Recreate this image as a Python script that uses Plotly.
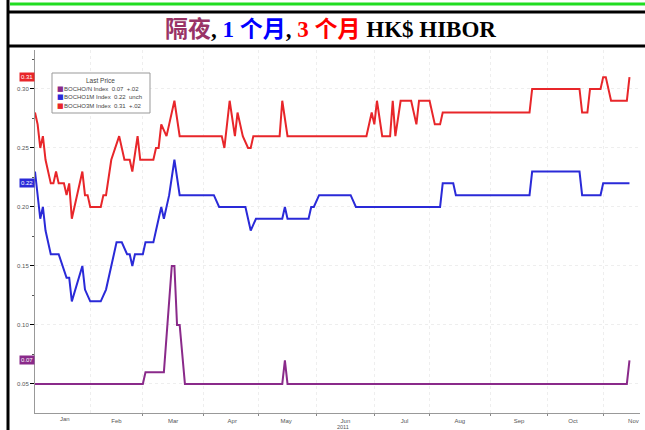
import plotly.graph_objects as go
import pandas as pd

# ---------------- data (trading-day number since 3 Jan 2011, rate) ----------------
days_on = [0, 41, 42, 49, 52, 53, 54, 55, 57, 94, 95, 96, 225, 226]
hibor_on = [0.05, 0.05, 0.06, 0.06, 0.15, 0.15, 0.10, 0.10, 0.05, 0.05, 0.07, 0.05, 0.05, 0.07]

days_1m = [0, 2, 3, 4, 6, 9, 12, 13, 14, 18, 19, 21, 25, 27, 30, 31, 33, 35, 36, 37, 38, 41,
           42, 45, 46, 48, 49, 51, 53, 55, 68, 70, 80, 82, 84, 94, 95, 96, 104, 105, 106, 108,
           120, 122, 154, 155, 159, 160, 188, 189, 207, 208, 215, 216, 226]
hibor_1m = [0.23, 0.19, 0.20, 0.18, 0.16, 0.16, 0.14, 0.14, 0.12, 0.15, 0.13, 0.12, 0.12, 0.13,
            0.16, 0.17, 0.17, 0.16, 0.16, 0.15, 0.16, 0.16, 0.17, 0.17, 0.18, 0.20, 0.19, 0.21,
            0.24, 0.21, 0.21, 0.20, 0.20, 0.18, 0.19, 0.19, 0.20, 0.19, 0.19, 0.20, 0.20, 0.21,
            0.21, 0.20, 0.20, 0.22, 0.22, 0.21, 0.21, 0.23, 0.23, 0.21, 0.21, 0.22, 0.22]

days_3m = [0, 1, 2, 3, 4, 6, 7, 8, 9, 11, 12, 13, 14, 16, 18, 19, 20, 21, 25, 26, 27, 29, 32,
           34, 36, 37, 39, 40, 45, 46, 47, 48, 50, 51, 53, 55, 71, 72, 74, 76, 77, 79, 81, 82,
           83, 93, 94, 96, 126, 128, 129, 130, 132, 135, 136, 137, 139, 143, 145, 146, 150,
           152, 154, 155, 188, 189, 207, 208, 210, 211, 215, 216, 217, 219, 225, 226]
hibor_3m = [0.28, 0.27, 0.25, 0.26, 0.24, 0.22, 0.22, 0.23, 0.22, 0.22, 0.21, 0.22, 0.19, 0.21,
            0.23, 0.21, 0.21, 0.20, 0.20, 0.21, 0.21, 0.24, 0.26, 0.24, 0.24, 0.23, 0.26, 0.24,
            0.24, 0.25, 0.25, 0.27, 0.26, 0.27, 0.29, 0.26, 0.26, 0.25, 0.29, 0.26, 0.28, 0.26,
            0.25, 0.25, 0.26, 0.26, 0.29, 0.26, 0.26, 0.28, 0.27, 0.29, 0.26, 0.26, 0.29, 0.26,
            0.29, 0.29, 0.27, 0.29, 0.29, 0.27, 0.27, 0.28, 0.28, 0.30, 0.30, 0.28, 0.28, 0.30,
            0.30, 0.31, 0.31, 0.29, 0.29, 0.31]

series_names = ["BOCHO/N Index", "BOCHO1M Index", "BOCHO3M Index"]
series_change = ["+.02", "unch", "+.02"]
series_colors = ["#8a2a8a", "#2a2ad8", "#e8262a"]
y_ticks = [0.05, 0.10, 0.15, 0.20, 0.25, 0.30]
y_ticklabels = ["0.05", "0.10", "0.15", "0.20", "0.25", "0.30"]

# ---------------- layout helpers ----------------
W, H = 645, 430
L, R, T, B = 35, 5, 50, 17


def px(x):
    return (x - L) / (W - L - R)


def py(y):
    return (H - B - y) / (H - T - B)


dates = pd.bdate_range("2011-01-03", periods=240)

fig = go.Figure()
all_days = [days_on, days_1m, days_3m]
all_vals = [hibor_on, hibor_1m, hibor_3m]
for d, v, c in zip(all_days, all_vals, series_colors):
    fig.add_trace(go.Scatter(x=dates[d], y=v, mode="lines",
                             line=dict(color=c, width=2), showlegend=False,
                             hoverinfo="skip"))

shapes = [
    dict(type="line", xref="paper", yref="paper", x0=px(10), x1=px(646), y0=py(4), y1=py(4),
         line=dict(color="#22dd22", width=3)),
    dict(type="line", xref="paper", yref="paper", x0=px(8), x1=px(8), y0=py(-2), y1=py(432),
         line=dict(color="black", width=3)),
    dict(type="line", xref="paper", yref="paper", x0=px(8), x1=px(646), y0=py(12), y1=py(12),
         line=dict(color="black", width=3)),
    dict(type="line", xref="paper", yref="paper", x0=px(8), x1=px(646), y0=py(46), y1=py(46),
         line=dict(color="black", width=3)),
    dict(type="rect", xref="paper", yref="paper", x0=px(52), x1=px(150), y0=py(73), y1=py(113),
         line=dict(color="#999999", width=1), fillcolor="white"),
]

annotations = [
    dict(xref="paper", yref="paper", x=px(330), y=py(29), xanchor="center", yanchor="middle",
         showarrow=False,
         text=('<b><span style="color:#993366">隔夜</span>, '
               '<span style="color:#0000ff">1 个月</span>, '
               '<span style="color:#ff0000">3 个月</span> HK$ HIBOR</b>'),
         font=dict(family="Liberation Serif, Noto Sans CJK SC", size=23, color="black")),
    dict(xref="paper", yref="paper", x=px(100), y=py(81), xanchor="center", yanchor="middle",
         showarrow=False,
         text="Last Price", font=dict(family="Liberation Sans", size=6.5, color="#444444")),
    dict(xref="paper", yref="paper", x=px(343), y=py(427), xanchor="center", yanchor="middle",
         showarrow=False,
         text="2011", font=dict(family="Liberation Sans", size=5.5, color="#555555")),
    dict(xref="paper", yref="paper", x=px(65), y=py(419), xanchor="center", yanchor="middle",
         showarrow=False,
         text="Jan", font=dict(family="Liberation Sans", size=6, color="#555555")),
]

for i, (name, chg, col, vals) in enumerate(zip(series_names, series_change, series_colors, all_vals)):
    yy = 89 + i * 8.3
    annotations.append(dict(xref="paper", yref="paper", x=px(55), y=py(yy), xanchor="left",
                            yanchor="middle", showarrow=False, text="■",
                            font=dict(family="DejaVu Sans", size=7, color=col)))
    annotations.append(dict(xref="paper", yref="paper", x=px(62), y=py(yy), xanchor="left",
                            yanchor="middle", showarrow=False,
                            text=f"{name}&nbsp;&nbsp;{vals[-1]:.2f}&nbsp;&nbsp;{chg}",
                            font=dict(family="Liberation Sans", size=6, color="#444444")))
    # last-price tag on the axis
    annotations.append(dict(xref="paper", yref="y", x=px(35), y=vals[-1], xanchor="right",
                            yanchor="middle", showarrow=False, text=f"{vals[-1]:.2f}",
                            bgcolor=col, borderpad=1,
                            font=dict(family="Liberation Sans", size=6, color="white")))

fig.update_layout(
    width=W, height=H,
    margin=dict(l=L, r=R, t=T, b=B, pad=0),
    paper_bgcolor="white", plot_bgcolor="white",
    shapes=shapes, annotations=annotations,
    xaxis=dict(type="date", range=[dates[0], dates[230]],
               rangebreaks=[dict(bounds=["sat", "mon"])],
               dtick="M1", tickformat="%b", ticklabelmode="period",
               ticks="outside", ticklen=2, tickcolor="#888888",
               showline=True, linecolor="#999999", linewidth=1,
               showgrid=True, gridcolor="#eeeeee", griddash="dot",
               tickfont=dict(family="Liberation Sans", size=6, color="#555555")),
    yaxis=dict(range=[0.0254, 0.333], tickvals=y_ticks, ticktext=y_ticklabels,
               ticks="outside", ticklen=4, tickcolor="black",
               showline=True, linecolor="#999999", linewidth=1,
               showgrid=True, gridcolor="#eeeeee", griddash="dot", zeroline=False,
               minor=dict(dtick=0.025, ticks="outside", ticklen=2, tickcolor="#555555",
                          showgrid=False),
               tickfont=dict(family="Liberation Sans", size=6, color="#555555")),
)

fig.write_html("out.html", config={"displayModeBar": False},
               post_script="document.body.style.margin='0px';")
